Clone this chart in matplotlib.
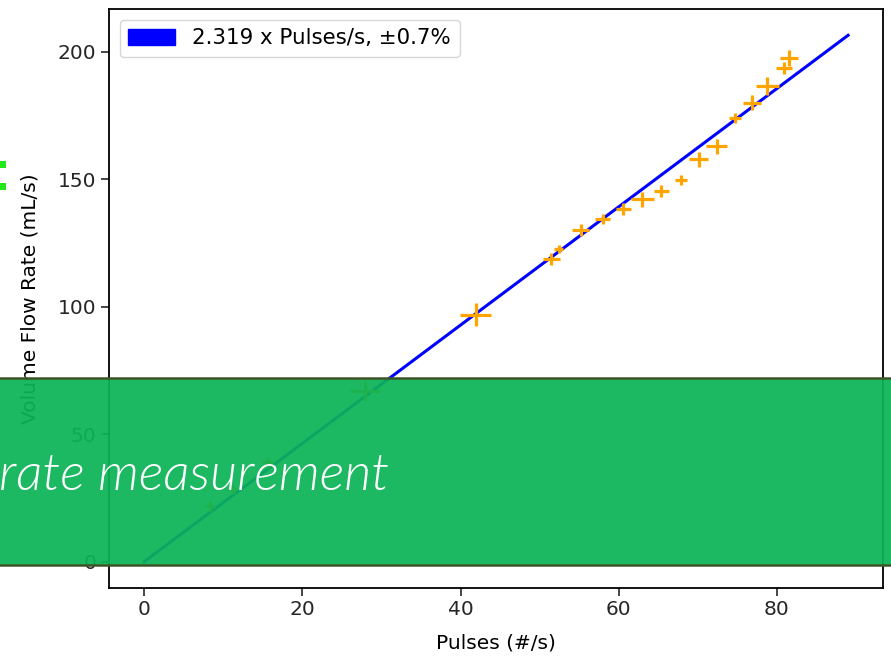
import matplotlib
matplotlib.use("Agg")
import matplotlib.pyplot as plt
import matplotlib.patches as mpatches
import numpy as np

# Data
pulses = [8.3, 11.2, 15.6, 27.9, 41.9, 51.5, 52.4, 55.2, 58.0, 60.6,
          63.0, 65.4, 67.9, 70.1, 72.4, 74.7, 76.9, 78.8, 80.9, 81.5]
flow = [21.8, 28.5, 38.9, 66.9, 96.9, 118.6, 122.5, 130.1, 134.4, 138.3,
        142.1, 145.3, 149.6, 157.8, 162.9, 174.1, 180.0, 186.4, 193.6, 197.5]
pulses_err = [0.6, 0.6, 0.7, 1.9, 2.0, 1.05, 0.6, 1.1, 0.95, 1.0,
              1.45, 0.95, 0.75, 1.15, 1.3, 0.8, 1.15, 1.45, 1.0, 1.15]
flow_err = [1.8, 1.8, 2.0, 4.0, 4.5, 2.4, 1.5, 2.4, 2.0, 2.3,
            3.0, 2.3, 2.0, 3.0, 3.0, 2.0, 3.0, 3.6, 2.5, 3.0]
slope = 2.319
fit_x = [0, 89]
fit_label = "2.319 x Pulses/s, \u00b10.7%"
banner_text = "rate measurement"
x_ticks = [0, 20, 40, 60, 80]
y_ticks = [0, 50, 100, 150, 200]

plt.rcParams["font.size"] = 14.5

fig = plt.figure(figsize=(8.91, 6.56), dpi=100)
ax = fig.add_axes([0.1223, 0.1037, 0.869, 0.8826])

fx = np.array(fit_x, dtype=float)
ax.plot(fx, slope * fx, color="blue", lw=2.2)
ax.errorbar(pulses, flow, xerr=pulses_err, yerr=flow_err, fmt="none",
            ecolor="orange", elinewidth=2.3)
ax.set_xlabel("Pulses (#/s)", labelpad=10)
ax.set_ylabel("Volume Flow Rate (mL/s)", labelpad=13)
ax.set_xticks(x_ticks)
ax.set_yticks(y_ticks)
ax.tick_params(length=5.5, width=1.2, colors="#262626")
for sp in ax.spines.values():
    sp.set_linewidth(1.3)
handle = mpatches.Patch(color="blue", label=fit_label)
ax.legend(handles=[handle], loc="upper left", handlelength=2.2,
          handleheight=0.8, fontsize=15.4)

# green colon fragment at left edge
for yb in [(656 - 168) / 656, (656 - 190) / 656]:
    fig.add_artist(mpatches.Rectangle((0, yb), 6 / 891, 7 / 656,
                                      transform=fig.transFigure,
                                      facecolor="#22e81a", edgecolor="none",
                                      zorder=5))

# green banner overlay
b_bottom = (656 - 565) / 656
b_top = (656 - 378) / 656
fig.add_artist(mpatches.Rectangle((-0.01, b_bottom), 1.02, b_top - b_bottom,
                                  transform=fig.transFigure,
                                  facecolor="#0cb456", alpha=0.93,
                                  edgecolor="none", zorder=5))
fig.add_artist(mpatches.Rectangle((-0.01, b_bottom), 1.02, b_top - b_bottom,
                                  transform=fig.transFigure,
                                  facecolor="none", edgecolor="#3d5526",
                                  lw=1.8, zorder=6))
fig.text(-1 / 891, (656 - 490) / 656, banner_text, color="white",
         family=["Lato", "DejaVu Sans"], style="italic", fontweight=300,
         fontsize=37.7, ha="left", va="baseline", zorder=7)

fig.savefig("out.png", dpi=100)
